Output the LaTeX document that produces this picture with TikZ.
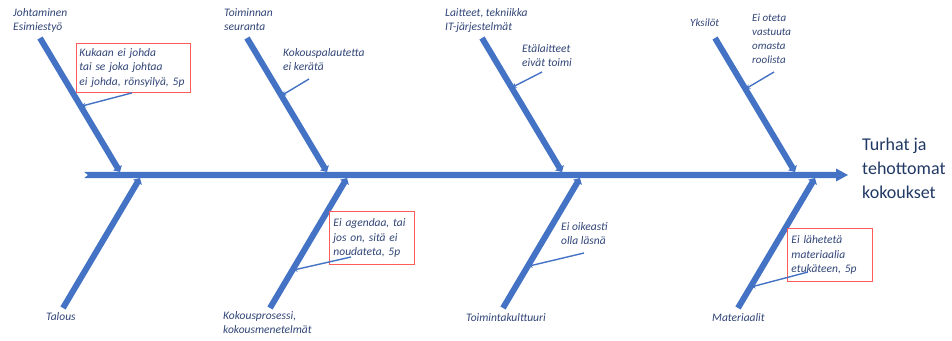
\documentclass[tikz,border=0pt]{standalone}
\usepackage{fontspec}
\setmainfont{Carlito}
\usetikzlibrary{arrows.meta,calc}
\definecolor{bone}{RGB}{68,114,196}
\definecolor{lbl}{RGB}{48,68,118}
\definecolor{ttl}{RGB}{32,56,100}
\definecolor{redb}{RGB}{255,92,92}
\begin{document}
\begin{tikzpicture}[x=1pt,y=-1pt,
  bonestyle/.style={draw=bone, line width=6pt, -{Triangle[width=10pt,length=5pt]}},
  notearrow/.style={draw=bone, line width=1.4pt, -{Stealth[width=5pt,length=5pt]}},
  lab/.style={font=\fontsize{11.5}{14.5}\selectfont\itshape, text=lbl, align=left, inner sep=0pt, anchor=north west},
  smalllab/.style={lab, font=\fontsize{11}{14}\selectfont\itshape},
  redbox/.style={lab, draw=redb, line width=0.9pt, inner xsep=4pt, inner ysep=4pt, text width=#1, minimum height=53pt},
  titlestyle/.style={font=\fontsize{18}{24}\selectfont, text=ttl, align=left, inner sep=0pt, anchor=north west}
]
\useasboundingbox (0,0) rectangle (952,340);

% spine
\coordinate (tail) at (84,175);
\coordinate (head) at (848,175);
\fill[bone] (tail) ++(0,-3.2) -- (836,171.8) -- (836,168.5) -- (head) -- (836,181.5) -- (836,178.2) -- (84,178.2) -- (88,175) -- cycle;

% bone end points
\coordinate (u1s) at (40,38);   \coordinate (u1e) at (120,172);
\coordinate (u2s) at (247,38);  \coordinate (u2e) at (327,172);
\coordinate (u3s) at (482,38);  \coordinate (u3e) at (562,172);
\coordinate (u4s) at (715,38);  \coordinate (u4e) at (795,172);
\coordinate (d1s) at (63,308);  \coordinate (d1e) at (140,178);
\coordinate (d2s) at (270,308); \coordinate (d2e) at (347,178);
\coordinate (d3s) at (503,308); \coordinate (d3e) at (580,178);
\coordinate (d4s) at (738,308); \coordinate (d4e) at (815,178);

\foreach \b in {u1,u2,u3,u4,d1,d2,d3,d4}
  \draw[bonestyle] (\b s) -- (\b e);

% category labels
\node[lab] (l1) at (13,8) {Johtaminen\\Esimiestyö};
\node[lab] (l2) at (224,8) {Toiminnan\\seuranta};
\node[lab] (l3) at (445,8) {Laitteet, tekniikka\\IT-järjestelmät};
\node[smalllab] (l4) at (690,19) {Yksilöt};
\node[lab] (l5) at (46,312) {Talous};
\node[lab] (l6) at (223,311) {Kokousprosessi,\\kokousmenetelmät};
\node[lab] (l7) at (466,313) {Toimintakulttuuri};
\node[lab] (l8) at (712,313) {Materiaalit};

% title
\node[titlestyle] (T) at (862,138) {Turhat ja\\tehottomat\\kokoukset};

% notes
\node[redbox=108pt, inner xsep=3pt, minimum height=49pt] (n1) at (76,43) {Kukaan ei johda\\tai se joka johtaa\\ei johda, rönsyilyä, 5p};
\node[lab] (n2) at (283,48) {Kokouspalautetta\\ei kerätä};
\node[lab] (n3) at (522,44) {Etälaitteet\\eivät toimi};
\node[smalllab] (n4) at (752,14) {Ei oteta\\vastuuta\\omasta\\roolista};
\node[redbox=77pt] (n5) at (329,211) {Ei agendaa, tai\\jos on, sitä ei\\noudateta, 5p};
\node[lab] (n6) at (561,222) {Ei oikeasti\\olla läsnä};
\node[redbox=77pt] (n7) at (787,228) {Ei lähetetä\\materiaalia\\etukäteen, 5p};

% arrow tails
\coordinate (a1) at ($(n1.south west)+(56,0)$);
\coordinate (a2) at (309,79);
\coordinate (a3) at (542,72);
\coordinate (a4) at (774,72);
\coordinate (a5) at (351,257);
\coordinate (a6) at (584,253);
\coordinate (a7) at (808,272);

\draw[notearrow] (a1) -- ($(u1s)!0.51!(u1e)$);
\draw[notearrow] (a2) -- ($(u2s)!0.43!(u2e)$);
\draw[notearrow] (a3) -- ($(u3s)!0.37!(u3e)$);
\draw[notearrow] (a4) -- ($(u4s)!0.38!(u4e)$);
\draw[notearrow] (a5) -- ($(d2s)!0.29!(d2e)$);
\draw[notearrow] (a6) -- ($(d3s)!0.32!(d3e)$);
\draw[notearrow] (a7) -- ($(d4s)!0.16!(d4e)$);
\end{tikzpicture}
\end{document}
